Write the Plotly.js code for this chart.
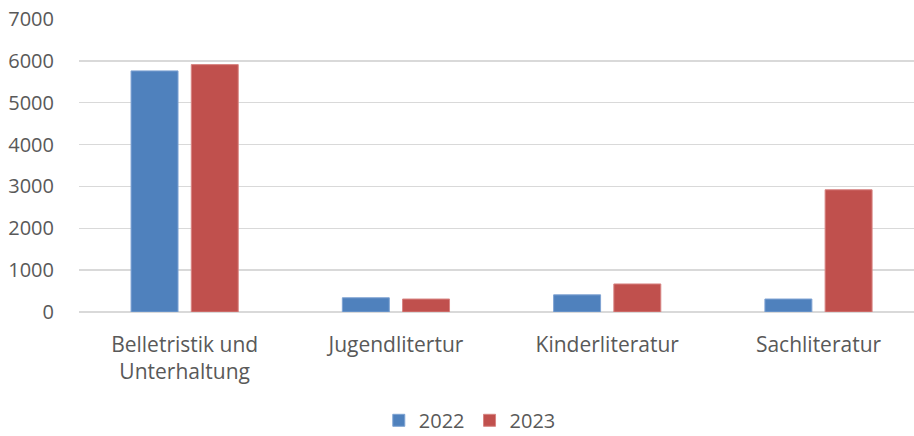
<!DOCTYPE html>
<html>
<head>
<meta charset="utf-8">
<script src="https://cdn.plot.ly/plotly-3.0.1.min.js"></script>
<style>html,body{margin:0;padding:0;background:#fff;}#chart{width:914px;height:436px;}</style>
</head>
<body>
<div id="chart"></div>
<script>
const categories = ["Belletristik und<br>Unterhaltung", "Jugendlitertur", "Kinderliteratur", "Sachliteratur"];
const values2022 = [5760, 340, 410, 310];
const values2023 = [5910, 310, 670, 2920];
const seriesNames = ["2022", "2023"];
const yTicks = [0, 1000, 2000, 3000, 4000, 5000, 6000, 7000];

const fam = "Open Sans, Noto Sans, sans-serif";
const tickFontY = {family: fam, size: 20, color: "#595959"};
const tickFontX = {family: fam, size: 21, color: "#595959"};

const traces = [
  {type: "bar", name: seriesNames[0], x: categories, y: values2022,
   marker: {color: "#4F81BD", line: {color: "#7FA3D3", width: 1}}},
  {type: "bar", name: seriesNames[1], x: categories, y: values2023,
   marker: {color: "#C0504D", line: {color: "#D88583", width: 1}}}
];

const layout = {
  width: 914, height: 436,
  margin: {l: 79, r: 0, t: 19, b: 124},
  paper_bgcolor: "#fff", plot_bgcolor: "#fff",
  font: tickFontY,
  barmode: "group", bargap: 0.43, bargroupgap: 0.22,
  showlegend: true,
  legend: {orientation: "h", x: 0.514, xanchor: "center", xref: "container",
           yref: "container", y: 0.036, yanchor: "middle", bgcolor: "rgba(0,0,0,0)",
           itemwidth: 30,
           font: {family: fam, size: 20, color: "#595959"}, traceorder: "normal"},
  xaxis: {type: "category", range: [-0.5, 3.452], showgrid: false, zeroline: false,
          showline: false, ticks: "", ticklabelstandoff: 18, tickfont: tickFontX, fixedrange: true},
  yaxis: {range: [0, 7000], tickvals: yTicks, ticktext: yTicks.map(String),
          showgrid: true, gridcolor: "#D9D9D9", gridwidth: 1.5,
          zeroline: true, zerolinecolor: "#D9D9D9", zerolinewidth: 1.5,
          showline: false, ticks: "", ticklabelstandoff: 24, tickfont: tickFontY, fixedrange: true}
};

Plotly.newPlot("chart", traces, layout, {displayModeBar: false, staticPlot: true});
</script>
</body>
</html>
